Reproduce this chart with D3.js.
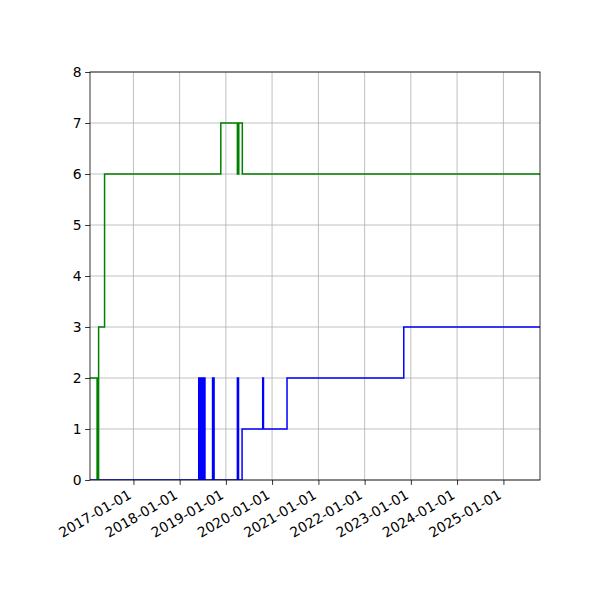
<!DOCTYPE html>
<html>
<head>
<meta charset="utf-8">
<script src="https://cdn.jsdelivr.net/npm/d3@7"></script>
<style>
  html, body { margin: 0; padding: 0; background: #fff; }
  text { font-family: "DejaVu Sans", sans-serif; }
</style>
</head>
<body>
<svg id="chart" width="600" height="600"></svg>
<script>
// ---- data ----
const xDomain = ["2016-01-24", "2025-10-17"];
const yTicks = [0, 1, 2, 3, 4, 5, 6, 7, 8];
const xTickLabels = ["2017-01-01", "2018-01-01", "2019-01-01", "2020-01-01", "2021-01-01",
                     "2022-01-01", "2023-01-01", "2024-01-01", "2025-01-01"];

const greenDates = ["2016-01-24", "2016-03-20", "2016-04-01", "2016-05-18", "2018-11-22",
                    "2019-04-02", "2019-04-13", "2019-05-11", "2025-10-17"];
const greenValues = [2, 0, 3, 6, 7, 6, 7, 6, 6];

const blueDates = ["2016-01-24", "2018-06-01", "2018-06-13", "2018-06-21", "2018-07-03",
                   "2018-07-09", "2018-07-20", "2018-09-18", "2018-09-30", "2019-04-02",
                   "2019-04-11", "2019-05-09", "2019-10-19", "2019-10-25", "2020-04-28",
                   "2022-11-06", "2025-10-17"];
const blueValues = [0, 2, 0, 2, 0, 2, 0, 2, 0, 2, 0, 1, 2, 1, 2, 3, 3];

// ---- layout ----
const mLeft = 90, mRight = 540, mTop = 72, mBottom = 480;
const parse = d3.utcParse("%Y-%m-%d");
const svg = d3.select("#chart");

const x = d3.scaleUtc().domain(xDomain.map(parse)).range([mLeft, mRight]);
const y = d3.scaleLinear().domain([0, 8]).range([mBottom, mTop]);

svg.append("defs").append("clipPath").attr("id", "clip")
  .append("rect").attr("x", mLeft).attr("y", mTop)
  .attr("width", mRight - mLeft).attr("height", mBottom - mTop);

// grid
const xTickDates = xTickLabels.map(parse);
const grid = svg.append("g");
grid.selectAll("line.v").data(xTickDates).enter().append("line")
  .attr("x1", d => x(d)).attr("x2", d => x(d))
  .attr("y1", mTop).attr("y2", mBottom)
  .attr("stroke", "#b0b0b0").attr("stroke-width", 0.8);
grid.selectAll("line.h").data(yTicks).enter().append("line")
  .attr("x1", mLeft).attr("x2", mRight)
  .attr("y1", d => y(d)).attr("y2", d => y(d))
  .attr("stroke", "#b0b0b0").attr("stroke-width", 0.8);

// lines
const line = d3.line().curve(d3.curveStepAfter)
  .x(d => x(d[0])).y(d => y(d[1]));
const blue = blueDates.map((d, i) => [parse(d), blueValues[i]]);
const green = greenDates.map((d, i) => [parse(d), greenValues[i]]);
const lines = svg.append("g").attr("clip-path", "url(#clip)");
lines.append("path").attr("d", line(blue)).attr("fill", "none")
  .attr("stroke", "#0000ff").attr("stroke-width", 1.5).attr("stroke-linejoin", "miter");
lines.append("path").attr("d", line(green)).attr("fill", "none")
  .attr("stroke", "#008000").attr("stroke-width", 1.5).attr("stroke-linejoin", "miter");

// axes
const yAxis = d3.axisLeft(y).tickValues(yTicks).tickSize(4.9).tickPadding(3.5).tickFormat(d3.format("d"));
const gy = svg.append("g").attr("transform", `translate(${mLeft},0)`).call(yAxis);
gy.select(".domain").remove();
gy.selectAll("text").attr("font-size", "13.9px").attr("fill", "#000").attr("font-family", "DejaVu Sans");
gy.selectAll("line").attr("stroke", "#000").attr("stroke-width", 0.8);

const xAxis = d3.axisBottom(x).tickValues(xTickDates).tickSize(4.9).tickFormat(d3.utcFormat("%Y-%m-%d"));
const gx = svg.append("g").attr("transform", `translate(0,${mBottom})`).call(xAxis);
gx.select(".domain").remove();
gx.selectAll("line").attr("stroke", "#000").attr("stroke-width", 0.8);
gx.selectAll("text")
  .attr("font-size", "13.9px").attr("fill", "#000").attr("font-family", "DejaVu Sans")
  .attr("text-anchor", "end")
  .attr("y", 0).attr("dy", null)
  .attr("transform", "translate(-1.6,17.6) rotate(-30)");

// spines
svg.append("rect").attr("x", mLeft).attr("y", mTop)
  .attr("width", mRight - mLeft).attr("height", mBottom - mTop)
  .attr("fill", "none").attr("stroke", "#000").attr("stroke-width", 0.8);
</script>
</body>
</html>
